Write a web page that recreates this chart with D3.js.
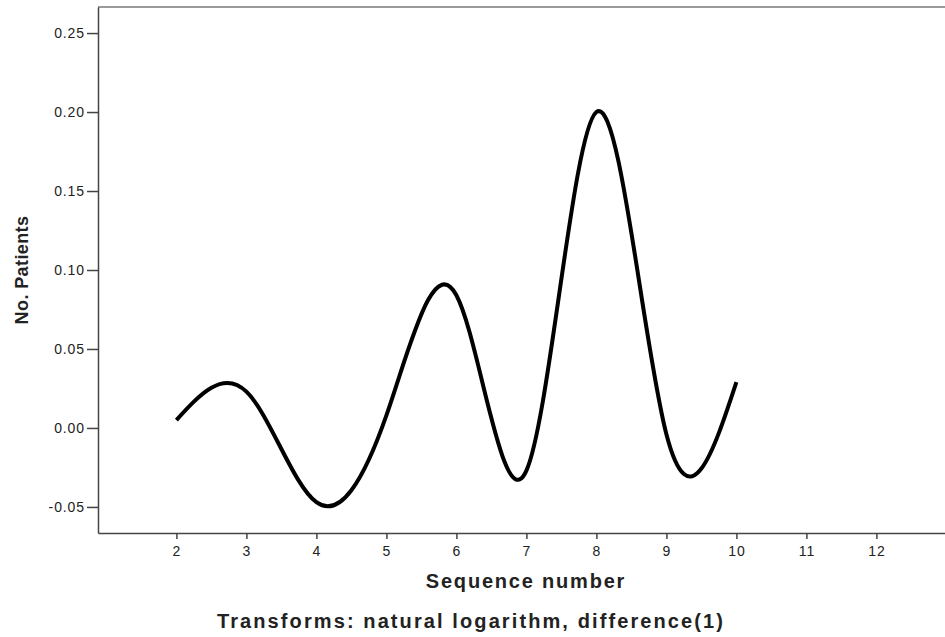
<!DOCTYPE html>
<html>
<head>
<meta charset="utf-8">
<script src="https://cdn.jsdelivr.net/npm/d3@7"></script>
<style>
  body { margin: 0; background: #fff; }
  text { font-family: "Liberation Sans", Arial, sans-serif; fill: #222; }
</style>
</head>
<body>
<svg id="vis"></svg>
<script>
const WIDTH = 945;
const HEIGHT = 637;

// series: difference of log counts by sequence number
const seqNumbers = [2, 3, 4, 5, 6, 7, 8, 9, 10];
const values = [0.005, 0.023, -0.047, 0.008, 0.084, -0.027, 0.200, -0.004, 0.029];

const xTicks = [2, 3, 4, 5, 6, 7, 8, 9, 10, 11, 12];
const yTicks = [-0.05, 0.00, 0.05, 0.10, 0.15, 0.20, 0.25];

const xTitle = "Sequence number";
const yTitle = "No. Patients";
const footnote = "Transforms: natural logarithm, difference(1)";

const margin = { top: 7, left: 98, bottom: 104 };

const SVG = d3.select('#vis')
  .attr("width", WIDTH)
  .attr("height", HEIGHT);

const x_scale = d3.scaleLinear()
  .domain([0.88, 13])
  .range([margin.left, margin.left + (13 - 0.88) * 70]);

const y_scale = d3.scaleLinear()
  .domain([-0.0665, 0.2665])
  .range([HEIGHT - margin.bottom, margin.top]);

const fmt = (d) => d3.format(".2f")(d).replace("−", "-");

// top frame line
SVG.append("line")
  .attr("x1", margin.left).attr("x2", WIDTH)
  .attr("y1", margin.top).attr("y2", margin.top)
  .attr("stroke", "#777").attr("stroke-width", 1.5);

// x axis
const xAxis = SVG.append("g")
  .attr("transform", `translate(0, ${HEIGHT - margin.bottom})`)
  .call(d3.axisBottom(x_scale).tickValues(xTicks).tickSize(6).tickSizeOuter(0).tickPadding(7));

// y axis
const yAxis = SVG.append("g")
  .attr("transform", `translate(${margin.left}, 0)`)
  .call(d3.axisLeft(y_scale).tickValues(yTicks).tickSize(11).tickSizeOuter(0).tickPadding(2).tickFormat(fmt));

[xAxis, yAxis].forEach((ax) => {
  ax.select(".domain").attr("stroke", "#444").attr("stroke-width", 1.5);
  ax.selectAll(".tick line").attr("stroke", "#444").attr("stroke-width", 1.5);
  ax.selectAll(".tick text")
    .attr("font-family", "Liberation Sans, Arial, sans-serif")
    .attr("font-size", 14)
    .attr("letter-spacing", 0.9)
    .attr("fill", "#333");
});

// curve
const line = d3.line()
  .x((d, i) => x_scale(seqNumbers[i]))
  .y((d) => y_scale(d))
  .curve(d3.curveNatural);

SVG.append("path")
  .datum(values)
  .attr("d", line)
  .attr("fill", "none")
  .attr("stroke", "#000")
  .attr("stroke-width", 4);

// titles
SVG.append("text")
  .attr("x", 526).attr("y", 588)
  .attr("text-anchor", "middle")
  .attr("font-size", 20).attr("font-weight", "bold")
  .attr("letter-spacing", 1.8)
  .text(xTitle);

SVG.append("text")
  .attr("transform", `translate(28, 270) rotate(-90)`)
  .attr("text-anchor", "middle")
  .attr("font-size", 18).attr("font-weight", "bold")
  .attr("letter-spacing", 0.4)
  .text(yTitle);

SVG.append("text")
  .attr("x", 471).attr("y", 628)
  .attr("text-anchor", "middle")
  .attr("font-size", 20).attr("font-weight", "bold")
  .attr("letter-spacing", 2.1)
  .text(footnote);
</script>
</body>
</html>
